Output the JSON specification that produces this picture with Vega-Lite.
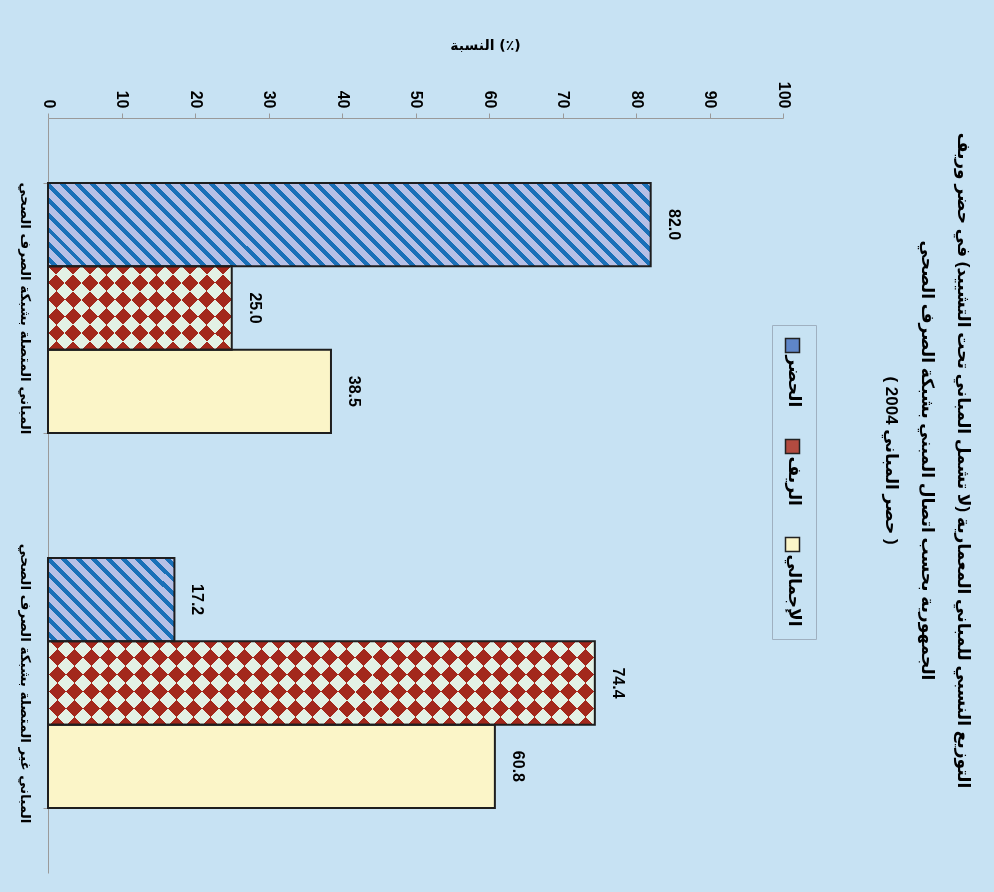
{
  "$schema": "https://vega.github.io/schema/vega-lite/v6.json",
  "autosize": {"type": "none"},
  "padding": {"left": 48, "top": 118, "right": 211, "bottom": 19},
  "width": 735,
  "height": 755,
  "background": "#c7e2f3",
  "config": {"view": {"stroke": null}},
  "title": {
    "text": ["التوزيع النسبي للمباني المعمارية (لا تشمل المباني تحت التشييد) في حضر وريف", "الجمهورية بحسب اتصال المبني بشبكة الصرف الصحي", "( حصر المباني 2004 )"],
    "orient": "right",
    "anchor": "middle",
    "font": "Liberation Sans, DejaVu Sans",
    "fontSize": 17,
    "fontWeight": "bold",
    "color": "#000",
    "lineHeight": 36,
    "offset": 65,
    "dx": -35
  },
  "data": {
    "values": [
      {"cat": "المباني المتصلة بشبكة الصرف الصحي", "series": "الحضر", "value": 82.0},
      {"cat": "المباني المتصلة بشبكة الصرف الصحي", "series": "الريف", "value": 25.0},
      {"cat": "المباني المتصلة بشبكة الصرف الصحي", "series": "الإجمالي", "value": 38.5},
      {"cat": "المباني غير المتصلة بشبكة الصرف الصحي", "series": "الحضر", "value": 17.2},
      {"cat": "المباني غير المتصلة بشبكة الصرف الصحي", "series": "الريف", "value": 74.4},
      {"cat": "المباني غير المتصلة بشبكة الصرف الصحي", "series": "الإجمالي", "value": 60.8}
    ]
  },
  "encoding": {
    "x": {
      "field": "value", "type": "quantitative",
      "scale": {"domain": [0, 100]},
      "axis": {
        "orient": "top", "values": [0, 10, 20, 30, 40, 50, 60, 70, 80, 90, 100],
        "title": "النسبة (٪)", "titleAngle": 0, "titleX": 437, "titleY": -73,
        "titleAlign": "center", "titleBaseline": "middle",
        "titleFont": "DejaVu Sans", "titleFontSize": 14, "titleFontWeight": "bold", "titleColor": "#000",
        "labelAngle": 90, "labelAlign": "right", "labelBaseline": "middle",
        "labelFont": "Liberation Sans", "labelFontSize": 16, "labelFontWeight": "bold", "labelColor": "#000",
        "labelPadding": 5, "labelFlush": false, "labelOverlap": false,
        "tickSize": 5, "tickColor": "#9a9a9a", "domainColor": "#9a9a9a", "grid": false
      }
    },
    "y": {
      "field": "cat", "type": "nominal",
      "sort": ["المباني المتصلة بشبكة الصرف الصحي", "المباني غير المتصلة بشبكة الصرف الصحي"],
      "scale": {"paddingInner": 0.333, "paddingOuter": 0.173},
      "axis": {
        "title": null, "labelAngle": 90, "labelAlign": "center", "labelBaseline": "top",
        "labelFont": "DejaVu Sans", "labelFontSize": 13.5, "labelFontWeight": "bold", "labelColor": "#000",
        "labelPadding": 12, "labelLimit": 500, "tickBand": "extent", "tickSize": 5,
        "tickColor": "#9a9a9a", "domainColor": "#9a9a9a", "grid": false
      }
    },
    "yOffset": {
      "field": "series", "type": "nominal",
      "sort": ["الحضر", "الريف", "الإجمالي"],
      "scale": {"paddingInner": 0, "paddingOuter": 0}
    }
  },
  "layer": [
    {
      "mark": {"type": "bar"},
      "encoding": {
        "color": {
          "field": "series", "type": "nominal",
          "scale": {"domain": ["الحضر", "الريف", "الإجمالي"], "range": ["#5f86c8", "#b34b40", "#fbf5c8"]},
          "legend": {
            "orient": "none", "legendX": 724, "legendY": 207, "direction": "vertical", "title": null,
            "symbolType": "square", "symbolSize": 196, "symbolStrokeColor": "#222", "symbolStrokeWidth": 1.5,
            "labelFont": "DejaVu Sans", "labelFontSize": 17, "labelFontWeight": "bold", "labelColor": "#000",
            "labelLimit": 300, "rowPadding": 28, "padding": 12, "strokeColor": "#9fb0c0",
            "encode": {
              "symbols": {"update": {"stroke": {"value": "#222"}, "strokeWidth": {"value": 1.5}}},
              "labels": {"update": {
                "angle": {"value": 90},
                "align": {"value": "left"},
                "baseline": {"value": "middle"},
                "dx": {"value": 10},
                "dy": {"value": 11}
              }}
            }
          }
        }
      }
    },
    {
      "transform": [{"filter": "datum.series === 'الحضر' && datum.value > 50"}],
      "mark": {"type": "bar", "fill": {"gradient": "linear", "x1": 0, "y1": 1, "x2": 1.117, "y2": 0.8454, "stops": [
        {"offset": 0, "color": "#b6c0e6"},
        {"offset": 0.0065, "color": "#b6c0e6"}, {"offset": 0.0065, "color": "#1a70b8"}, {"offset": 0.0152, "color": "#1a70b8"}, {"offset": 0.0152, "color": "#b6c0e6"},
        {"offset": 0.0283, "color": "#b6c0e6"}, {"offset": 0.0283, "color": "#1a70b8"}, {"offset": 0.037, "color": "#1a70b8"}, {"offset": 0.037, "color": "#b6c0e6"},
        {"offset": 0.05, "color": "#b6c0e6"}, {"offset": 0.05, "color": "#1a70b8"}, {"offset": 0.0587, "color": "#1a70b8"}, {"offset": 0.0587, "color": "#b6c0e6"},
        {"offset": 0.0717, "color": "#b6c0e6"}, {"offset": 0.0717, "color": "#1a70b8"}, {"offset": 0.0804, "color": "#1a70b8"}, {"offset": 0.0804, "color": "#b6c0e6"},
        {"offset": 0.0935, "color": "#b6c0e6"}, {"offset": 0.0935, "color": "#1a70b8"}, {"offset": 0.1022, "color": "#1a70b8"}, {"offset": 0.1022, "color": "#b6c0e6"},
        {"offset": 0.1152, "color": "#b6c0e6"}, {"offset": 0.1152, "color": "#1a70b8"}, {"offset": 0.1239, "color": "#1a70b8"}, {"offset": 0.1239, "color": "#b6c0e6"},
        {"offset": 0.137, "color": "#b6c0e6"}, {"offset": 0.137, "color": "#1a70b8"}, {"offset": 0.1457, "color": "#1a70b8"}, {"offset": 0.1457, "color": "#b6c0e6"},
        {"offset": 0.1587, "color": "#b6c0e6"}, {"offset": 0.1587, "color": "#1a70b8"}, {"offset": 0.1674, "color": "#1a70b8"}, {"offset": 0.1674, "color": "#b6c0e6"},
        {"offset": 0.1804, "color": "#b6c0e6"}, {"offset": 0.1804, "color": "#1a70b8"}, {"offset": 0.1891, "color": "#1a70b8"}, {"offset": 0.1891, "color": "#b6c0e6"},
        {"offset": 0.2022, "color": "#b6c0e6"}, {"offset": 0.2022, "color": "#1a70b8"}, {"offset": 0.2109, "color": "#1a70b8"}, {"offset": 0.2109, "color": "#b6c0e6"},
        {"offset": 0.2239, "color": "#b6c0e6"}, {"offset": 0.2239, "color": "#1a70b8"}, {"offset": 0.2326, "color": "#1a70b8"}, {"offset": 0.2326, "color": "#b6c0e6"},
        {"offset": 0.2457, "color": "#b6c0e6"}, {"offset": 0.2457, "color": "#1a70b8"}, {"offset": 0.2543, "color": "#1a70b8"}, {"offset": 0.2543, "color": "#b6c0e6"},
        {"offset": 0.2674, "color": "#b6c0e6"}, {"offset": 0.2674, "color": "#1a70b8"}, {"offset": 0.2761, "color": "#1a70b8"}, {"offset": 0.2761, "color": "#b6c0e6"},
        {"offset": 0.2891, "color": "#b6c0e6"}, {"offset": 0.2891, "color": "#1a70b8"}, {"offset": 0.2978, "color": "#1a70b8"}, {"offset": 0.2978, "color": "#b6c0e6"},
        {"offset": 0.3109, "color": "#b6c0e6"}, {"offset": 0.3109, "color": "#1a70b8"}, {"offset": 0.3196, "color": "#1a70b8"}, {"offset": 0.3196, "color": "#b6c0e6"},
        {"offset": 0.3326, "color": "#b6c0e6"}, {"offset": 0.3326, "color": "#1a70b8"}, {"offset": 0.3413, "color": "#1a70b8"}, {"offset": 0.3413, "color": "#b6c0e6"},
        {"offset": 0.3543, "color": "#b6c0e6"}, {"offset": 0.3543, "color": "#1a70b8"}, {"offset": 0.363, "color": "#1a70b8"}, {"offset": 0.363, "color": "#b6c0e6"},
        {"offset": 0.3761, "color": "#b6c0e6"}, {"offset": 0.3761, "color": "#1a70b8"}, {"offset": 0.3848, "color": "#1a70b8"}, {"offset": 0.3848, "color": "#b6c0e6"},
        {"offset": 0.3978, "color": "#b6c0e6"}, {"offset": 0.3978, "color": "#1a70b8"}, {"offset": 0.4065, "color": "#1a70b8"}, {"offset": 0.4065, "color": "#b6c0e6"},
        {"offset": 0.4196, "color": "#b6c0e6"}, {"offset": 0.4196, "color": "#1a70b8"}, {"offset": 0.4283, "color": "#1a70b8"}, {"offset": 0.4283, "color": "#b6c0e6"},
        {"offset": 0.4413, "color": "#b6c0e6"}, {"offset": 0.4413, "color": "#1a70b8"}, {"offset": 0.45, "color": "#1a70b8"}, {"offset": 0.45, "color": "#b6c0e6"},
        {"offset": 0.463, "color": "#b6c0e6"}, {"offset": 0.463, "color": "#1a70b8"}, {"offset": 0.4717, "color": "#1a70b8"}, {"offset": 0.4717, "color": "#b6c0e6"},
        {"offset": 0.4848, "color": "#b6c0e6"}, {"offset": 0.4848, "color": "#1a70b8"}, {"offset": 0.4935, "color": "#1a70b8"}, {"offset": 0.4935, "color": "#b6c0e6"},
        {"offset": 0.5065, "color": "#b6c0e6"}, {"offset": 0.5065, "color": "#1a70b8"}, {"offset": 0.5152, "color": "#1a70b8"}, {"offset": 0.5152, "color": "#b6c0e6"},
        {"offset": 0.5283, "color": "#b6c0e6"}, {"offset": 0.5283, "color": "#1a70b8"}, {"offset": 0.537, "color": "#1a70b8"}, {"offset": 0.537, "color": "#b6c0e6"},
        {"offset": 0.55, "color": "#b6c0e6"}, {"offset": 0.55, "color": "#1a70b8"}, {"offset": 0.5587, "color": "#1a70b8"}, {"offset": 0.5587, "color": "#b6c0e6"},
        {"offset": 0.5717, "color": "#b6c0e6"}, {"offset": 0.5717, "color": "#1a70b8"}, {"offset": 0.5804, "color": "#1a70b8"}, {"offset": 0.5804, "color": "#b6c0e6"},
        {"offset": 0.5935, "color": "#b6c0e6"}, {"offset": 0.5935, "color": "#1a70b8"}, {"offset": 0.6022, "color": "#1a70b8"}, {"offset": 0.6022, "color": "#b6c0e6"},
        {"offset": 0.6152, "color": "#b6c0e6"}, {"offset": 0.6152, "color": "#1a70b8"}, {"offset": 0.6239, "color": "#1a70b8"}, {"offset": 0.6239, "color": "#b6c0e6"},
        {"offset": 0.637, "color": "#b6c0e6"}, {"offset": 0.637, "color": "#1a70b8"}, {"offset": 0.6457, "color": "#1a70b8"}, {"offset": 0.6457, "color": "#b6c0e6"},
        {"offset": 0.6587, "color": "#b6c0e6"}, {"offset": 0.6587, "color": "#1a70b8"}, {"offset": 0.6674, "color": "#1a70b8"}, {"offset": 0.6674, "color": "#b6c0e6"},
        {"offset": 0.6804, "color": "#b6c0e6"}, {"offset": 0.6804, "color": "#1a70b8"}, {"offset": 0.6891, "color": "#1a70b8"}, {"offset": 0.6891, "color": "#b6c0e6"},
        {"offset": 0.7022, "color": "#b6c0e6"}, {"offset": 0.7022, "color": "#1a70b8"}, {"offset": 0.7109, "color": "#1a70b8"}, {"offset": 0.7109, "color": "#b6c0e6"},
        {"offset": 0.7239, "color": "#b6c0e6"}, {"offset": 0.7239, "color": "#1a70b8"}, {"offset": 0.7326, "color": "#1a70b8"}, {"offset": 0.7326, "color": "#b6c0e6"},
        {"offset": 0.7457, "color": "#b6c0e6"}, {"offset": 0.7457, "color": "#1a70b8"}, {"offset": 0.7543, "color": "#1a70b8"}, {"offset": 0.7543, "color": "#b6c0e6"},
        {"offset": 0.7674, "color": "#b6c0e6"}, {"offset": 0.7674, "color": "#1a70b8"}, {"offset": 0.7761, "color": "#1a70b8"}, {"offset": 0.7761, "color": "#b6c0e6"},
        {"offset": 0.7891, "color": "#b6c0e6"}, {"offset": 0.7891, "color": "#1a70b8"}, {"offset": 0.7978, "color": "#1a70b8"}, {"offset": 0.7978, "color": "#b6c0e6"},
        {"offset": 0.8109, "color": "#b6c0e6"}, {"offset": 0.8109, "color": "#1a70b8"}, {"offset": 0.8196, "color": "#1a70b8"}, {"offset": 0.8196, "color": "#b6c0e6"},
        {"offset": 0.8326, "color": "#b6c0e6"}, {"offset": 0.8326, "color": "#1a70b8"}, {"offset": 0.8413, "color": "#1a70b8"}, {"offset": 0.8413, "color": "#b6c0e6"},
        {"offset": 0.8543, "color": "#b6c0e6"}, {"offset": 0.8543, "color": "#1a70b8"}, {"offset": 0.863, "color": "#1a70b8"}, {"offset": 0.863, "color": "#b6c0e6"},
        {"offset": 0.8761, "color": "#b6c0e6"}, {"offset": 0.8761, "color": "#1a70b8"}, {"offset": 0.8848, "color": "#1a70b8"}, {"offset": 0.8848, "color": "#b6c0e6"},
        {"offset": 0.8978, "color": "#b6c0e6"}, {"offset": 0.8978, "color": "#1a70b8"}, {"offset": 0.9065, "color": "#1a70b8"}, {"offset": 0.9065, "color": "#b6c0e6"},
        {"offset": 0.9196, "color": "#b6c0e6"}, {"offset": 0.9196, "color": "#1a70b8"}, {"offset": 0.9283, "color": "#1a70b8"}, {"offset": 0.9283, "color": "#b6c0e6"},
        {"offset": 0.9413, "color": "#b6c0e6"}, {"offset": 0.9413, "color": "#1a70b8"}, {"offset": 0.95, "color": "#1a70b8"}, {"offset": 0.95, "color": "#b6c0e6"},
        {"offset": 0.963, "color": "#b6c0e6"}, {"offset": 0.963, "color": "#1a70b8"}, {"offset": 0.9717, "color": "#1a70b8"}, {"offset": 0.9717, "color": "#b6c0e6"},
        {"offset": 0.9848, "color": "#b6c0e6"}, {"offset": 0.9848, "color": "#1a70b8"}, {"offset": 0.9935, "color": "#1a70b8"}, {"offset": 0.9935, "color": "#b6c0e6"},
        {"offset": 1, "color": "#b6c0e6"}
      ]}},
      "encoding": {}
    },
    {
      "transform": [{"filter": "datum.series === 'الحضر' && datum.value < 50"}],
      "mark": {"type": "bar", "fill": {"gradient": "linear", "x1": 0, "y1": 1, "x2": 1.1564, "y2": 0.2371, "stops": [
        {"offset": 0, "color": "#b6c0e6"},
        {"offset": 0.0214, "color": "#b6c0e6"}, {"offset": 0.0214, "color": "#1a70b8"}, {"offset": 0.05, "color": "#1a70b8"}, {"offset": 0.05, "color": "#b6c0e6"},
        {"offset": 0.0929, "color": "#b6c0e6"}, {"offset": 0.0929, "color": "#1a70b8"}, {"offset": 0.1214, "color": "#1a70b8"}, {"offset": 0.1214, "color": "#b6c0e6"},
        {"offset": 0.1643, "color": "#b6c0e6"}, {"offset": 0.1643, "color": "#1a70b8"}, {"offset": 0.1929, "color": "#1a70b8"}, {"offset": 0.1929, "color": "#b6c0e6"},
        {"offset": 0.2357, "color": "#b6c0e6"}, {"offset": 0.2357, "color": "#1a70b8"}, {"offset": 0.2643, "color": "#1a70b8"}, {"offset": 0.2643, "color": "#b6c0e6"},
        {"offset": 0.3071, "color": "#b6c0e6"}, {"offset": 0.3071, "color": "#1a70b8"}, {"offset": 0.3357, "color": "#1a70b8"}, {"offset": 0.3357, "color": "#b6c0e6"},
        {"offset": 0.3786, "color": "#b6c0e6"}, {"offset": 0.3786, "color": "#1a70b8"}, {"offset": 0.4071, "color": "#1a70b8"}, {"offset": 0.4071, "color": "#b6c0e6"},
        {"offset": 0.45, "color": "#b6c0e6"}, {"offset": 0.45, "color": "#1a70b8"}, {"offset": 0.4786, "color": "#1a70b8"}, {"offset": 0.4786, "color": "#b6c0e6"},
        {"offset": 0.5214, "color": "#b6c0e6"}, {"offset": 0.5214, "color": "#1a70b8"}, {"offset": 0.55, "color": "#1a70b8"}, {"offset": 0.55, "color": "#b6c0e6"},
        {"offset": 0.5929, "color": "#b6c0e6"}, {"offset": 0.5929, "color": "#1a70b8"}, {"offset": 0.6214, "color": "#1a70b8"}, {"offset": 0.6214, "color": "#b6c0e6"},
        {"offset": 0.6643, "color": "#b6c0e6"}, {"offset": 0.6643, "color": "#1a70b8"}, {"offset": 0.6929, "color": "#1a70b8"}, {"offset": 0.6929, "color": "#b6c0e6"},
        {"offset": 0.7357, "color": "#b6c0e6"}, {"offset": 0.7357, "color": "#1a70b8"}, {"offset": 0.7643, "color": "#1a70b8"}, {"offset": 0.7643, "color": "#b6c0e6"},
        {"offset": 0.8071, "color": "#b6c0e6"}, {"offset": 0.8071, "color": "#1a70b8"}, {"offset": 0.8357, "color": "#1a70b8"}, {"offset": 0.8357, "color": "#b6c0e6"},
        {"offset": 0.8786, "color": "#b6c0e6"}, {"offset": 0.8786, "color": "#1a70b8"}, {"offset": 0.9071, "color": "#1a70b8"}, {"offset": 0.9071, "color": "#b6c0e6"},
        {"offset": 0.95, "color": "#b6c0e6"}, {"offset": 0.95, "color": "#1a70b8"}, {"offset": 0.9786, "color": "#1a70b8"}, {"offset": 0.9786, "color": "#b6c0e6"},
        {"offset": 1, "color": "#b6c0e6"}
      ]}},
      "encoding": {}
    },
    {
      "transform": [{"filter": "datum.series === 'الريف'"}],
      "mark": {"type": "bar", "fill": "#e3f1e5"},
      "encoding": {}
    },
    {
      "transform": [{"filter": "datum.series === 'الريف' && datum.value > 50"}],
      "mark": {"type": "bar", "blend": "difference", "fill": {"gradient": "linear", "x1": 0, "y1": 0, "x2": 1.1263, "y2": 0.1718, "stops": [
        {"offset": 0, "color": "#e3f1e5"},
        {"offset": 0.027, "color": "#e3f1e5"}, {"offset": 0.027, "color": "#000000"}, {"offset": 0.0541, "color": "#000000"}, {"offset": 0.0541, "color": "#e3f1e5"},
        {"offset": 0.0811, "color": "#e3f1e5"}, {"offset": 0.0811, "color": "#000000"}, {"offset": 0.1081, "color": "#000000"}, {"offset": 0.1081, "color": "#e3f1e5"},
        {"offset": 0.1351, "color": "#e3f1e5"}, {"offset": 0.1351, "color": "#000000"}, {"offset": 0.1622, "color": "#000000"}, {"offset": 0.1622, "color": "#e3f1e5"},
        {"offset": 0.1892, "color": "#e3f1e5"}, {"offset": 0.1892, "color": "#000000"}, {"offset": 0.2162, "color": "#000000"}, {"offset": 0.2162, "color": "#e3f1e5"},
        {"offset": 0.2432, "color": "#e3f1e5"}, {"offset": 0.2432, "color": "#000000"}, {"offset": 0.2703, "color": "#000000"}, {"offset": 0.2703, "color": "#e3f1e5"},
        {"offset": 0.2973, "color": "#e3f1e5"}, {"offset": 0.2973, "color": "#000000"}, {"offset": 0.3243, "color": "#000000"}, {"offset": 0.3243, "color": "#e3f1e5"},
        {"offset": 0.3514, "color": "#e3f1e5"}, {"offset": 0.3514, "color": "#000000"}, {"offset": 0.3784, "color": "#000000"}, {"offset": 0.3784, "color": "#e3f1e5"},
        {"offset": 0.4054, "color": "#e3f1e5"}, {"offset": 0.4054, "color": "#000000"}, {"offset": 0.4324, "color": "#000000"}, {"offset": 0.4324, "color": "#e3f1e5"},
        {"offset": 0.4595, "color": "#e3f1e5"}, {"offset": 0.4595, "color": "#000000"}, {"offset": 0.4865, "color": "#000000"}, {"offset": 0.4865, "color": "#e3f1e5"},
        {"offset": 0.5135, "color": "#e3f1e5"}, {"offset": 0.5135, "color": "#000000"}, {"offset": 0.5405, "color": "#000000"}, {"offset": 0.5405, "color": "#e3f1e5"},
        {"offset": 0.5676, "color": "#e3f1e5"}, {"offset": 0.5676, "color": "#000000"}, {"offset": 0.5946, "color": "#000000"}, {"offset": 0.5946, "color": "#e3f1e5"},
        {"offset": 0.6216, "color": "#e3f1e5"}, {"offset": 0.6216, "color": "#000000"}, {"offset": 0.6486, "color": "#000000"}, {"offset": 0.6486, "color": "#e3f1e5"},
        {"offset": 0.6757, "color": "#e3f1e5"}, {"offset": 0.6757, "color": "#000000"}, {"offset": 0.7027, "color": "#000000"}, {"offset": 0.7027, "color": "#e3f1e5"},
        {"offset": 0.7297, "color": "#e3f1e5"}, {"offset": 0.7297, "color": "#000000"}, {"offset": 0.7568, "color": "#000000"}, {"offset": 0.7568, "color": "#e3f1e5"},
        {"offset": 0.7838, "color": "#e3f1e5"}, {"offset": 0.7838, "color": "#000000"}, {"offset": 0.8108, "color": "#000000"}, {"offset": 0.8108, "color": "#e3f1e5"},
        {"offset": 0.8378, "color": "#e3f1e5"}, {"offset": 0.8378, "color": "#000000"}, {"offset": 0.8649, "color": "#000000"}, {"offset": 0.8649, "color": "#e3f1e5"},
        {"offset": 0.8919, "color": "#e3f1e5"}, {"offset": 0.8919, "color": "#000000"}, {"offset": 0.9189, "color": "#000000"}, {"offset": 0.9189, "color": "#e3f1e5"},
        {"offset": 0.9459, "color": "#e3f1e5"}, {"offset": 0.9459, "color": "#000000"}, {"offset": 0.973, "color": "#000000"}, {"offset": 0.973, "color": "#e3f1e5"},
        {"offset": 1, "color": "#e3f1e5"}
      ]}},
      "encoding": {}
    },
    {
      "transform": [{"filter": "datum.series === 'الريف' && datum.value > 50"}],
      "mark": {"type": "bar", "blend": "difference", "fill": {"gradient": "linear", "x1": 0, "y1": 1, "x2": 1.1263, "y2": 0.8282, "stops": [
        {"offset": 0, "color": "#e3f1e5"},
        {"offset": 0.027, "color": "#e3f1e5"}, {"offset": 0.027, "color": "#000000"}, {"offset": 0.0541, "color": "#000000"}, {"offset": 0.0541, "color": "#e3f1e5"},
        {"offset": 0.0811, "color": "#e3f1e5"}, {"offset": 0.0811, "color": "#000000"}, {"offset": 0.1081, "color": "#000000"}, {"offset": 0.1081, "color": "#e3f1e5"},
        {"offset": 0.1351, "color": "#e3f1e5"}, {"offset": 0.1351, "color": "#000000"}, {"offset": 0.1622, "color": "#000000"}, {"offset": 0.1622, "color": "#e3f1e5"},
        {"offset": 0.1892, "color": "#e3f1e5"}, {"offset": 0.1892, "color": "#000000"}, {"offset": 0.2162, "color": "#000000"}, {"offset": 0.2162, "color": "#e3f1e5"},
        {"offset": 0.2432, "color": "#e3f1e5"}, {"offset": 0.2432, "color": "#000000"}, {"offset": 0.2703, "color": "#000000"}, {"offset": 0.2703, "color": "#e3f1e5"},
        {"offset": 0.2973, "color": "#e3f1e5"}, {"offset": 0.2973, "color": "#000000"}, {"offset": 0.3243, "color": "#000000"}, {"offset": 0.3243, "color": "#e3f1e5"},
        {"offset": 0.3514, "color": "#e3f1e5"}, {"offset": 0.3514, "color": "#000000"}, {"offset": 0.3784, "color": "#000000"}, {"offset": 0.3784, "color": "#e3f1e5"},
        {"offset": 0.4054, "color": "#e3f1e5"}, {"offset": 0.4054, "color": "#000000"}, {"offset": 0.4324, "color": "#000000"}, {"offset": 0.4324, "color": "#e3f1e5"},
        {"offset": 0.4595, "color": "#e3f1e5"}, {"offset": 0.4595, "color": "#000000"}, {"offset": 0.4865, "color": "#000000"}, {"offset": 0.4865, "color": "#e3f1e5"},
        {"offset": 0.5135, "color": "#e3f1e5"}, {"offset": 0.5135, "color": "#000000"}, {"offset": 0.5405, "color": "#000000"}, {"offset": 0.5405, "color": "#e3f1e5"},
        {"offset": 0.5676, "color": "#e3f1e5"}, {"offset": 0.5676, "color": "#000000"}, {"offset": 0.5946, "color": "#000000"}, {"offset": 0.5946, "color": "#e3f1e5"},
        {"offset": 0.6216, "color": "#e3f1e5"}, {"offset": 0.6216, "color": "#000000"}, {"offset": 0.6486, "color": "#000000"}, {"offset": 0.6486, "color": "#e3f1e5"},
        {"offset": 0.6757, "color": "#e3f1e5"}, {"offset": 0.6757, "color": "#000000"}, {"offset": 0.7027, "color": "#000000"}, {"offset": 0.7027, "color": "#e3f1e5"},
        {"offset": 0.7297, "color": "#e3f1e5"}, {"offset": 0.7297, "color": "#000000"}, {"offset": 0.7568, "color": "#000000"}, {"offset": 0.7568, "color": "#e3f1e5"},
        {"offset": 0.7838, "color": "#e3f1e5"}, {"offset": 0.7838, "color": "#000000"}, {"offset": 0.8108, "color": "#000000"}, {"offset": 0.8108, "color": "#e3f1e5"},
        {"offset": 0.8378, "color": "#e3f1e5"}, {"offset": 0.8378, "color": "#000000"}, {"offset": 0.8649, "color": "#000000"}, {"offset": 0.8649, "color": "#e3f1e5"},
        {"offset": 0.8919, "color": "#e3f1e5"}, {"offset": 0.8919, "color": "#000000"}, {"offset": 0.9189, "color": "#000000"}, {"offset": 0.9189, "color": "#e3f1e5"},
        {"offset": 0.9459, "color": "#e3f1e5"}, {"offset": 0.9459, "color": "#000000"}, {"offset": 0.973, "color": "#000000"}, {"offset": 0.973, "color": "#e3f1e5"},
        {"offset": 1, "color": "#e3f1e5"}
      ]}},
      "encoding": {}
    },
    {
      "transform": [{"filter": "datum.series === 'الريف' && datum.value < 50"}],
      "mark": {"type": "bar", "blend": "difference", "fill": {"gradient": "linear", "x1": 0, "y1": 0, "x2": 1.2055, "y2": 0.5472, "stops": [
        {"offset": 0, "color": "#e3f1e5"},
        {"offset": 0.0625, "color": "#e3f1e5"}, {"offset": 0.0625, "color": "#000000"}, {"offset": 0.125, "color": "#000000"}, {"offset": 0.125, "color": "#e3f1e5"},
        {"offset": 0.1875, "color": "#e3f1e5"}, {"offset": 0.1875, "color": "#000000"}, {"offset": 0.25, "color": "#000000"}, {"offset": 0.25, "color": "#e3f1e5"},
        {"offset": 0.3125, "color": "#e3f1e5"}, {"offset": 0.3125, "color": "#000000"}, {"offset": 0.375, "color": "#000000"}, {"offset": 0.375, "color": "#e3f1e5"},
        {"offset": 0.4375, "color": "#e3f1e5"}, {"offset": 0.4375, "color": "#000000"}, {"offset": 0.5, "color": "#000000"}, {"offset": 0.5, "color": "#e3f1e5"},
        {"offset": 0.5625, "color": "#e3f1e5"}, {"offset": 0.5625, "color": "#000000"}, {"offset": 0.625, "color": "#000000"}, {"offset": 0.625, "color": "#e3f1e5"},
        {"offset": 0.6875, "color": "#e3f1e5"}, {"offset": 0.6875, "color": "#000000"}, {"offset": 0.75, "color": "#000000"}, {"offset": 0.75, "color": "#e3f1e5"},
        {"offset": 0.8125, "color": "#e3f1e5"}, {"offset": 0.8125, "color": "#000000"}, {"offset": 0.875, "color": "#000000"}, {"offset": 0.875, "color": "#e3f1e5"},
        {"offset": 0.9375, "color": "#e3f1e5"}, {"offset": 0.9375, "color": "#000000"}, {"offset": 1, "color": "#000000"}
      ]}},
      "encoding": {}
    },
    {
      "transform": [{"filter": "datum.series === 'الريف' && datum.value < 50"}],
      "mark": {"type": "bar", "blend": "difference", "fill": {"gradient": "linear", "x1": 0, "y1": 1, "x2": 1.2055, "y2": 0.4528, "stops": [
        {"offset": 0, "color": "#e3f1e5"},
        {"offset": 0.0625, "color": "#e3f1e5"}, {"offset": 0.0625, "color": "#000000"}, {"offset": 0.125, "color": "#000000"}, {"offset": 0.125, "color": "#e3f1e5"},
        {"offset": 0.1875, "color": "#e3f1e5"}, {"offset": 0.1875, "color": "#000000"}, {"offset": 0.25, "color": "#000000"}, {"offset": 0.25, "color": "#e3f1e5"},
        {"offset": 0.3125, "color": "#e3f1e5"}, {"offset": 0.3125, "color": "#000000"}, {"offset": 0.375, "color": "#000000"}, {"offset": 0.375, "color": "#e3f1e5"},
        {"offset": 0.4375, "color": "#e3f1e5"}, {"offset": 0.4375, "color": "#000000"}, {"offset": 0.5, "color": "#000000"}, {"offset": 0.5, "color": "#e3f1e5"},
        {"offset": 0.5625, "color": "#e3f1e5"}, {"offset": 0.5625, "color": "#000000"}, {"offset": 0.625, "color": "#000000"}, {"offset": 0.625, "color": "#e3f1e5"},
        {"offset": 0.6875, "color": "#e3f1e5"}, {"offset": 0.6875, "color": "#000000"}, {"offset": 0.75, "color": "#000000"}, {"offset": 0.75, "color": "#e3f1e5"},
        {"offset": 0.8125, "color": "#e3f1e5"}, {"offset": 0.8125, "color": "#000000"}, {"offset": 0.875, "color": "#000000"}, {"offset": 0.875, "color": "#e3f1e5"},
        {"offset": 0.9375, "color": "#e3f1e5"}, {"offset": 0.9375, "color": "#000000"}, {"offset": 1, "color": "#000000"}
      ]}},
      "encoding": {}
    },
    {
      "transform": [{"filter": "datum.series === 'الريف'"}],
      "mark": {"type": "bar", "blend": "lighten", "fill": "#a3281c"},
      "encoding": {}
    },
    {
      "mark": {"type": "bar", "fill": "#000", "fillOpacity": 0, "stroke": "#1e1e1e", "strokeWidth": 2},
      "encoding": {}
    },
    {
      "mark": {"type": "text", "font": "Liberation Sans", "fontSize": 16, "fontWeight": "bold", "color": "#000", "angle": 90, "align": "center", "baseline": "middle", "dy": -23},
      "encoding": {"text": {"field": "value", "type": "quantitative", "format": ".1f"}}
    }
  ]
}
